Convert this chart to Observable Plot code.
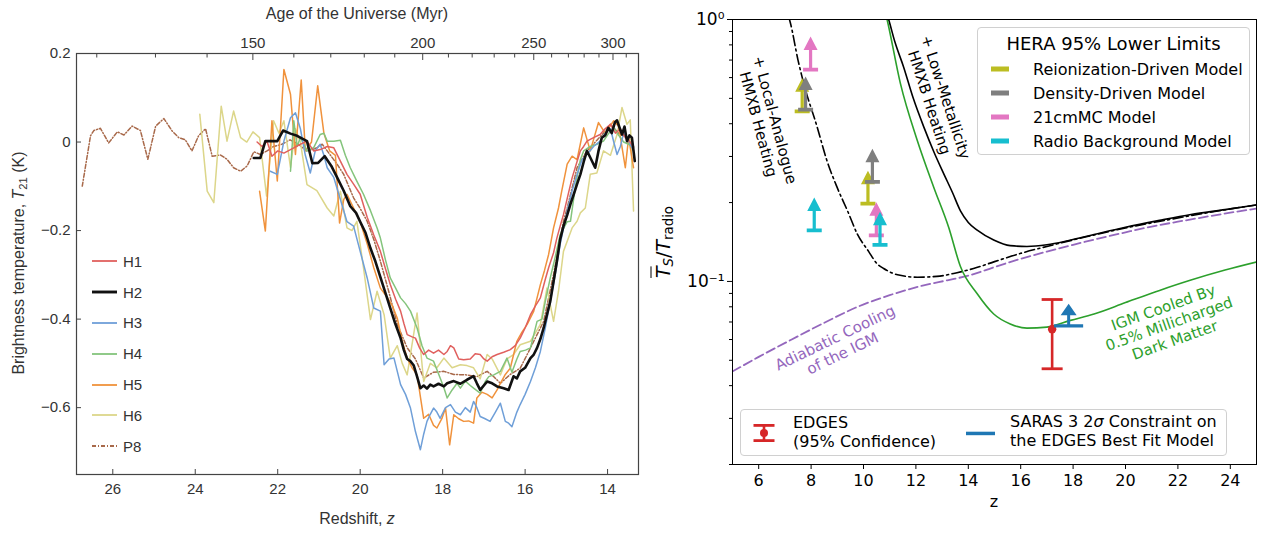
<!DOCTYPE html>
<html><head><meta charset="utf-8">
<script src="https://cdn.jsdelivr.net/npm/d3@7"></script>
<script src="https://cdn.jsdelivr.net/npm/@observablehq/plot@0.6"></script>
<style>
body{margin:0;background:#fff;}
#wrap{position:relative;width:1264px;height:533px;overflow:hidden;background:#fff;}
#left{position:absolute;left:0;top:0;}
#right{position:absolute;left:650px;top:0;}
.lbl{position:absolute;white-space:nowrap;line-height:1;}
.lbl sub{font-size:70%;vertical-align:-0.3em;line-height:0;}
.leg{position:absolute;}
</style></head><body><div id="wrap"><div id="left"></div><div id="right"></div></div>
<script>
// ---------------- LEFT PANEL DATA (redshift z, brightness temperature K) ----------------
const H1 = [[22.50,0.0],[22.38,-0.01],[22.26,0.002],[22.14,-0.032],[22.0,-0.02],[21.85,-0.025],[21.61,-0.013],[21.45,-0.005],[21.29,0.002],[21.13,-0.02],[20.97,-0.017],[20.80,-0.01],[20.64,-0.013],[20.48,-0.043],[20.32,-0.073],[20.16,-0.095],[20.0,-0.118],[19.83,-0.17],[19.67,-0.21],[19.51,-0.247],[19.39,-0.285],[19.27,-0.322],[19.14,-0.355],[19.02,-0.382],[18.94,-0.41],[18.86,-0.435],[18.74,-0.44],[18.66,-0.443],[18.56,-0.465],[18.46,-0.48],[18.34,-0.47],[18.22,-0.477],[18.10,-0.47],[17.97,-0.48],[17.89,-0.473],[17.81,-0.46],[17.73,-0.465],[17.61,-0.49],[17.49,-0.492],[17.33,-0.49],[17.21,-0.478],[17.09,-0.48],[17.00,-0.49],[16.92,-0.495],[16.80,-0.485],[16.68,-0.48],[16.52,-0.475],[16.36,-0.469],[16.24,-0.46],[16.12,-0.443],[16.0,-0.42],[15.87,-0.39],[15.75,-0.37],[15.63,-0.352],[15.51,-0.31],[15.43,-0.284],[15.31,-0.25],[15.23,-0.217],[15.15,-0.19],[15.07,-0.164],[14.96,-0.12],[14.86,-0.081],[14.76,-0.05],[14.66,-0.02],[14.58,-0.01],[14.50,0.002],[14.34,0.01],[14.18,0.017],[14.06,0.03],[13.93,0.04],[13.81,0.02],[13.69,0.03],[13.57,0.01],[13.45,0.0],[13.37,-0.013]];
const H2 = [[22.58,-0.036],[22.42,-0.036],[22.30,0.002],[22.01,0.002],[21.87,0.026],[21.69,0.019],[21.53,0.014],[21.45,0.01],[21.29,0.002],[21.16,-0.048],[21.02,-0.047],[20.86,-0.032],[20.70,-0.054],[20.56,-0.08],[20.40,-0.11],[20.24,-0.145],[20.10,-0.16],[20.0,-0.18],[19.87,-0.205],[19.75,-0.24],[19.63,-0.27],[19.51,-0.305],[19.39,-0.34],[19.27,-0.375],[19.15,-0.41],[19.02,-0.443],[18.94,-0.47],[18.86,-0.49],[18.78,-0.495],[18.70,-0.505],[18.62,-0.53],[18.54,-0.556],[18.46,-0.55],[18.38,-0.557],[18.30,-0.548],[18.22,-0.552],[18.10,-0.546],[17.97,-0.552],[17.89,-0.545],[17.73,-0.54],[17.57,-0.546],[17.41,-0.537],[17.25,-0.529],[17.17,-0.545],[17.09,-0.56],[16.92,-0.541],[16.80,-0.545],[16.68,-0.552],[16.52,-0.556],[16.40,-0.56],[16.28,-0.529],[16.20,-0.534],[16.12,-0.518],[16.0,-0.51],[15.87,-0.488],[15.79,-0.48],[15.71,-0.465],[15.63,-0.445],[15.55,-0.42],[15.47,-0.39],[15.39,-0.36],[15.31,-0.315],[15.23,-0.27],[15.15,-0.22],[15.07,-0.19],[14.98,-0.165],[14.90,-0.14],[14.82,-0.118],[14.74,-0.095],[14.66,-0.073],[14.58,-0.045],[14.50,-0.02],[14.42,-0.035],[14.30,-0.058],[14.22,-0.02],[14.14,0.01],[14.06,0.015],[13.98,0.032],[13.90,0.02],[13.82,0.045],[13.77,0.049],[13.70,0.03],[13.65,0.017],[13.59,0.035],[13.53,0.002],[13.47,0.015],[13.41,0.01],[13.34,-0.043]];
const H3 = [[22.18,-0.066],[22.01,-0.073],[21.85,0.002],[21.69,0.055],[21.57,0.066],[21.45,0.03],[21.33,-0.03],[21.21,-0.07],[21.09,-0.02],[20.97,-0.005],[20.88,-0.03],[20.80,-0.058],[20.64,-0.08],[20.48,-0.13],[20.32,-0.18],[20.16,-0.19],[20.0,-0.247],[19.83,-0.307],[19.67,-0.375],[19.51,-0.382],[19.42,-0.503],[19.30,-0.49],[19.18,-0.488],[19.02,-0.548],[18.90,-0.57],[18.78,-0.601],[18.66,-0.654],[18.54,-0.695],[18.46,-0.66],[18.38,-0.631],[18.30,-0.615],[18.22,-0.601],[18.14,-0.61],[18.06,-0.624],[17.93,-0.6],[17.81,-0.593],[17.69,-0.61],[17.57,-0.616],[17.45,-0.6],[17.33,-0.61],[17.25,-0.586],[17.17,-0.6],[17.09,-0.62],[16.97,-0.625],[16.85,-0.631],[16.72,-0.61],[16.60,-0.59],[16.48,-0.631],[16.40,-0.635],[16.32,-0.643],[16.20,-0.61],[16.12,-0.593],[16.0,-0.57],[15.87,-0.541],[15.75,-0.51],[15.63,-0.473],[15.51,-0.42],[15.39,-0.36],[15.27,-0.3],[15.15,-0.231],[15.06,-0.19],[14.98,-0.156],[14.86,-0.11],[14.74,-0.073],[14.62,-0.04],[14.50,-0.028],[14.34,-0.01],[14.18,0.002],[14.06,0.02],[13.93,0.03],[13.85,0.0],[13.77,-0.028],[13.69,-0.01],[13.61,0.02],[13.53,0.01],[13.45,-0.005],[13.37,-0.02]];
const H4 = [[21.69,-0.066],[21.61,0.048],[21.53,-0.01],[21.45,0.01],[21.29,-0.02],[21.13,-0.013],[20.97,0.017],[20.88,0.02],[20.80,0.002],[20.64,0.002],[20.48,0.004],[20.36,-0.03],[20.24,-0.058],[20.10,-0.085],[19.92,-0.118],[19.75,-0.155],[19.59,-0.194],[19.51,-0.217],[19.39,-0.265],[19.27,-0.307],[19.14,-0.33],[19.02,-0.352],[18.90,-0.365],[18.78,-0.382],[18.62,-0.42],[18.50,-0.46],[18.38,-0.488],[18.22,-0.495],[18.06,-0.533],[17.97,-0.555],[17.89,-0.578],[17.77,-0.56],[17.65,-0.545],[17.57,-0.556],[17.45,-0.54],[17.33,-0.55],[17.25,-0.556],[17.09,-0.567],[16.96,-0.54],[16.88,-0.53],[16.76,-0.526],[16.60,-0.518],[16.44,-0.488],[16.32,-0.52],[16.20,-0.49],[16.12,-0.473],[15.99,-0.47],[15.87,-0.465],[15.71,-0.405],[15.59,-0.4],[15.51,-0.36],[15.39,-0.307],[15.27,-0.26],[15.15,-0.209],[14.98,-0.18],[14.90,-0.179],[14.78,-0.1],[14.66,-0.04],[14.58,-0.02],[14.42,-0.01],[14.26,-0.005],[14.10,0.002],[13.97,0.02],[13.85,0.032],[13.73,0.015],[13.61,0.0],[13.49,-0.005],[13.37,-0.013]];
const H5 = [[22.44,-0.111],[22.30,-0.201],[22.14,0.048],[22.01,-0.088],[21.85,0.164],[21.69,0.108],[21.57,-0.028],[21.43,0.14],[21.33,-0.02],[21.18,0.0],[21.03,0.127],[20.88,0.02],[20.74,-0.02],[20.60,-0.03],[20.50,-0.183],[20.40,-0.13],[20.32,-0.118],[20.16,-0.149],[20.0,-0.18],[19.83,-0.23],[19.67,-0.284],[19.51,-0.33],[19.35,-0.35],[19.22,-0.37],[19.10,-0.398],[18.98,-0.45],[18.86,-0.488],[18.74,-0.51],[18.62,-0.526],[18.46,-0.624],[18.34,-0.615],[18.22,-0.64],[18.14,-0.646],[18.02,-0.625],[17.93,-0.601],[17.83,-0.684],[17.73,-0.616],[17.61,-0.625],[17.49,-0.631],[17.37,-0.63],[17.25,-0.635],[17.17,-0.578],[17.05,-0.565],[16.92,-0.57],[16.80,-0.578],[16.68,-0.56],[16.60,-0.545],[16.48,-0.525],[16.36,-0.511],[16.20,-0.45],[16.08,-0.43],[15.95,-0.412],[15.79,-0.382],[15.63,-0.322],[15.53,-0.29],[15.43,-0.254],[15.31,-0.194],[15.19,-0.149],[15.11,-0.11],[14.98,-0.05],[14.86,-0.032],[14.74,-0.04],[14.58,0.032],[14.42,-0.02],[14.22,0.044],[14.06,0.02],[13.85,0.048],[13.73,0.035],[13.57,-0.058],[13.49,0.01],[13.37,-0.058]];
const H6 = [[23.89,0.063],[23.71,-0.111],[23.55,-0.137],[23.37,0.081],[23.23,0.002],[23.07,0.07],[22.90,0.01],[22.75,0.0],[22.60,0.023],[22.44,0.01],[22.27,-0.122],[22.10,0.048],[21.97,0.02],[21.85,0.048],[21.69,-0.058],[21.57,0.03],[21.45,0.0],[21.29,-0.096],[21.05,-0.11],[20.80,-0.149],[20.64,-0.167],[20.48,-0.111],[20.32,-0.194],[20.20,-0.2],[20.08,-0.179],[19.92,-0.284],[19.75,-0.401],[19.59,-0.337],[19.42,-0.39],[19.27,-0.488],[19.10,-0.46],[18.98,-0.5],[18.86,-0.526],[18.62,-0.386],[18.46,-0.541],[18.30,-0.5],[18.14,-0.51],[17.97,-0.488],[17.77,-0.51],[17.57,-0.503],[17.41,-0.505],[17.25,-0.51],[17.09,-0.535],[16.92,-0.48],[16.80,-0.49],[16.60,-0.526],[16.44,-0.49],[16.28,-0.48],[16.12,-0.458],[15.87,-0.45],[15.63,-0.412],[15.47,-0.33],[15.31,-0.405],[15.19,-0.337],[15.07,-0.247],[14.86,-0.194],[14.74,-0.179],[14.66,-0.16],[14.54,-0.149],[14.42,-0.073],[14.26,-0.07],[14.10,-0.02],[13.93,-0.03],[13.77,0.017],[13.65,0.078],[13.53,0.04],[13.45,0.05],[13.37,-0.156]];
const P8 = [[26.74,-0.0995],[26.54,0.014],[26.46,0.026],[26.30,0.031],[26.10,-0.002],[25.89,0.023],[25.73,0.016],[25.53,0.036],[25.33,0.026],[25.15,-0.039],[24.96,0.036],[24.76,0.053],[24.56,0.025],[24.40,0.01],[24.24,0.005],[24.08,-0.02],[23.92,0.014],[23.75,0.030],[23.59,-0.032],[23.39,-0.029],[23.23,-0.039],[23.07,-0.058],[22.90,-0.066],[22.74,-0.054],[22.58,-0.022],[22.42,-0.028],[22.26,-0.02],[22.10,-0.01],[21.90,-0.005],[21.70,0.005],[21.50,-0.005],[21.30,-0.02],[21.10,-0.015],[20.92,-0.005],[20.72,-0.03],[20.56,-0.05],[20.40,-0.073],[20.16,-0.126],[20.0,-0.15],[19.83,-0.179],[19.67,-0.22],[19.51,-0.269],[19.30,-0.34],[19.10,-0.412],[18.86,-0.465],[18.66,-0.49],[18.46,-0.533],[18.22,-0.52],[17.97,-0.518],[17.73,-0.525],[17.41,-0.526],[17.17,-0.53],[16.92,-0.518],[16.76,-0.53],[16.60,-0.545],[16.36,-0.525],[16.12,-0.511],[15.95,-0.48],[15.79,-0.45],[15.55,-0.405],[15.31,-0.299],[15.07,-0.179],[14.98,-0.149],[14.74,-0.058],[14.50,-0.02],[14.30,0.0],[14.10,0.02],[13.93,0.04],[13.73,0.02],[13.53,0.01],[13.37,-0.01]];

const leftXTicks = [26, 24, 22, 20, 18, 16, 14];
const leftYTicks = [0.2, 0, -0.2, -0.4, -0.6];
const ageMajor = [150, 200, 250, 300];
const ageMinor = [120, 130, 140, 160, 170, 180, 190, 210, 220, 230, 240, 260, 270, 280, 290, 310];
const leftNames = ["H1", "H2", "H3", "H4", "H5", "H6", "P8"];
const leftData = [H1, H2, H3, H4, H5, H6, P8];

// styles (kept apart from data)
const leftStyle = {
  H1: {color: "#e0605e", width: 1.5, dash: null},
  H2: {color: "#111111", width: 2.6, dash: null},
  H3: {color: "#6f9fd8", width: 1.5, dash: null},
  H4: {color: "#84c47c", width: 1.5, dash: null},
  H5: {color: "#f0923c", width: 1.5, dash: null},
  H6: {color: "#dcd68a", width: 1.5, dash: null},
  P8: {color: "#a8694a", width: 1.5, dash: "4,2,1,2"}
};
const drawOrder = ["P8", "H6", "H5", "H4", "H3", "H1", "H2"];

// age <-> redshift (matter-dominated approximation)
const ageC = 17200;
const zOfAge = t => Math.pow(ageC / t, 2 / 3) - 1;
const ageOfZ = z => ageC * Math.pow(1 + z, -1.5);

const fmtLeft = d => d === 0 ? "0" : d.toFixed(1).replace("-", "\u2212");

const leftPlot = Plot.plot({
  width: 650, height: 533,
  marginLeft: 76, marginRight: 12, marginTop: 53, marginBottom: 59,
  style: {fontFamily: "'Liberation Sans', Arial, sans-serif", fontSize: "15px", color: "#333", background: "transparent"},
  x: {domain: [26.88, 13.25]},
  y: {domain: [-0.751, 0.2]},
  marks: [
    ...drawOrder.map(n => Plot.line(leftData[leftNames.indexOf(n)], {
      x: d => d[0], y: d => d[1], stroke: leftStyle[n].color, strokeWidth: leftStyle[n].width,
      strokeDasharray: leftStyle[n].dash, strokeLinejoin: "round"
    })),
    Plot.frame({stroke: "#444", strokeWidth: 1.2}),
    Plot.axisX(leftXTicks, {anchor: "bottom", tickSize: 0, tickPadding: 9, fontSize: 15, label: null}),
    Plot.axisX(leftXTicks, {anchor: "bottom", tickSize: -5, tickFormat: () => "", label: null, stroke: "#444"}),
    Plot.axisX(ageMajor.map(zOfAge), {anchor: "top", tickSize: 0, tickPadding: 6, fontSize: 15, label: null,
      tickFormat: z => String(Math.round(ageOfZ(z)))}),
    Plot.axisX(ageMajor.map(zOfAge), {anchor: "top", tickSize: -6, tickFormat: () => "", label: null, stroke: "#444"}),
    Plot.axisX(ageMinor.map(zOfAge), {anchor: "top", tickSize: -3.5, tickFormat: () => "", label: null, stroke: "#444"}),
    Plot.axisY(leftYTicks, {anchor: "left", tickSize: 0, tickPadding: 6, fontSize: 15, label: null, tickFormat: fmtLeft}),
    Plot.axisY(leftYTicks, {anchor: "left", tickSize: -5, tickFormat: () => "", label: null, stroke: "#444"})
  ]
});
document.getElementById("left").appendChild(leftPlot);

// ---------------- RIGHT PANEL DATA (z, Ts/Tradio) ----------------
const lowMetal = [[10.80,1.12],[10.96,1.0],[11.2,0.82],[11.53,0.659],[11.9,0.50],[12.3,0.389],[12.7,0.31],[13.06,0.258],[13.4,0.218],[13.7,0.186],[14.0,0.168],[14.34,0.157],[14.97,0.144],[15.6,0.137],[16.24,0.136],[17.0,0.138],[17.8,0.143],[18.8,0.151],[20.0,0.161],[21.3,0.171],[22.5,0.18],[23.8,0.188],[25.0,0.196]];
const localAnalogue = [[7.15,1.02],[7.21,0.97],[7.5,0.70],[7.72,0.569],[8.23,0.389],[8.6,0.29],[8.99,0.229],[9.4,0.185],[9.76,0.152],[10.2,0.13],[10.52,0.1167],[10.77,0.112],[11.3,0.106],[12.05,0.1038],[12.8,0.1045],[13.57,0.108],[14.2,0.112],[15.0,0.119],[16.0,0.128],[17.0,0.136],[17.5,0.140],[18.5,0.148],[20.0,0.160],[21.5,0.171],[23.0,0.182],[25.0,0.196]];
const adiabatic = [[5,0.0453],[6,0.0515],[7.2,0.0596],[8.5,0.0695],[9.75,0.0798],[11,0.0886],[12.3,0.0966],[13.2,0.101],[14.03,0.1054],[15,0.1135],[16,0.122],[17,0.130],[18,0.138],[19,0.146],[20,0.154],[21,0.162],[22,0.169],[23,0.176],[24,0.183],[25,0.1897]];
const millicharged = [[10.8,1.1],[10.9,1.0],[11.41,0.569],[12.05,0.346],[12.68,0.229],[13.25,0.161],[13.7,0.114],[14.34,0.0897],[14.97,0.0751],[15.6,0.0688],[16.24,0.0663],[17.0,0.0669],[17.9,0.071],[18.8,0.0751],[20.0,0.083],[21.3,0.0924],[22.5,0.1012],[23.8,0.1105],[25.0,0.1186]];

const heraModels = ["Reionization-Driven Model", "Density-Driven Model", "21cmMC Model", "Radio Background Model"];
const heraZ     = [7.66, 7.79, 7.98, 8.12, 10.17, 10.34, 10.49, 10.63];
const heraLimit = [0.446, 0.453, 0.644, 0.1566, 0.198, 0.240, 0.150, 0.138];
const heraModel = [0, 1, 2, 3, 0, 1, 2, 3];
const heraColors = ["#bcbd22", "#7f7f7f", "#e377c2", "#17becf"];

const edgesZ = [17.2], edgesV = [0.0657], edgesLo = [0.0464], edgesHi = [0.0853];
const sarasZ = [17.83], sarasV = [0.0677];

const rightXTicks = [6, 8, 10, 12, 14, 16, 18, 20, 22, 24];
const rightYMajor = [1, 0.1];
const rightYMinor = [0.02, 0.03, 0.04, 0.05, 0.06, 0.07, 0.08, 0.09, 0.2, 0.3, 0.4, 0.5, 0.6, 0.7, 0.8, 0.9];

const annText = ["+ Local-Analogue\nHMXB Heating", "+ Low-Metallicity\nHMXB Heating", "Adiabatic Cooling\nof the IGM", "IGM Cooled By\n0.5% Millicharged\nDark Matter"];
const annZ = [6.32, 12.84, 9.05, 21.66];
const annV = [0.406, 0.494, 0.0571, 0.0691];
const annRotate = [75, 72, -25.7, -19.5];
const annColor = ["#000000", "#000000", "#9467bd", "#2ca02c"];

const heraRows = heraZ.map((z, i) => ({z, v: heraLimit[i], color: heraColors[heraModel[i]]}));
const annRows = annText.map((t, i) => ({t, z: annZ[i], v: annV[i], r: annRotate[i], c: annColor[i]}));
const edgesRows = edgesZ.map((z, i) => ({z, v: edgesV[i], lo: edgesLo[i], hi: edgesHi[i]}));
const sarasRows = sarasZ.map((z, i) => ({z, v: sarasV[i]}));

// glyphs (pixel sizes)
function rect(ctx, x0, y0, x1, y1) { ctx.moveTo(x0, y0); ctx.lineTo(x1, y0); ctx.lineTo(x1, y1); ctx.lineTo(x0, y1); ctx.closePath(); }
const limitArrow = (capW, capH, shaftW, headBase, tip, headW) => ({
  draw(ctx) {
    rect(ctx, -capW, -capH, capW, capH);
    rect(ctx, -shaftW, -headBase - 0.5, shaftW, 0);
    ctx.moveTo(0, -tip); ctx.lineTo(headW, -headBase); ctx.lineTo(-headW, -headBase); ctx.closePath();
  }
});
const heraArrow = limitArrow(7.5, 1.9, 1.6, 19.5, 33, 7);
const sarasArrow = limitArrow(14.5, 1.6, 1.5, 10.5, 22, 8);
const capSymbol = {draw(ctx) { rect(ctx, -10.5, -1.4, 10.5, 1.4); }};

const rightPlot = Plot.plot({
  width: 614, height: 533,
  marginLeft: 82, marginRight: 8, marginTop: 19, marginBottom: 69,
  style: {fontFamily: "'DejaVu Sans', sans-serif", fontSize: "16px", color: "#000", background: "transparent"},
  x: {domain: [5, 25]},
  y: {type: "log", domain: [0.02, 1]},
  color: {type: "identity"},
  marks: [
    Plot.line(adiabatic, {x: d => d[0], y: d => d[1], stroke: "#9467bd", strokeWidth: 1.8, strokeDasharray: "9,4", curve: "monotone-x", clip: true}),
    Plot.line(localAnalogue, {x: d => d[0], y: d => d[1], stroke: "#000", strokeWidth: 1.6, strokeDasharray: "10,3.5,2,3.5", curve: "monotone-x", clip: true}),
    Plot.line(lowMetal, {x: d => d[0], y: d => d[1], stroke: "#000", strokeWidth: 1.6, curve: "monotone-x", clip: true}),
    Plot.line(millicharged, {x: d => d[0], y: d => d[1], stroke: "#2ca02c", strokeWidth: 1.6, curve: "monotone-x", clip: true}),
    Plot.dot(heraRows, {x: "z", y: "v", symbol: heraArrow, fill: "color", stroke: null, r: 5}),
    Plot.ruleX(edgesRows, {x: "z", y1: "lo", y2: "hi", stroke: "#d62728", strokeWidth: 2.6}),
    Plot.dot(edgesRows, {x: "z", y: "lo", symbol: capSymbol, fill: "#d62728", stroke: null, r: 5}),
    Plot.dot(edgesRows, {x: "z", y: "hi", symbol: capSymbol, fill: "#d62728", stroke: null, r: 5}),
    Plot.dot(edgesRows, {x: "z", y: "v", r: 4.2, fill: "#d62728", stroke: null}),
    Plot.dot(sarasRows, {x: "z", y: "v", symbol: sarasArrow, fill: "#1f77b4", stroke: null, r: 5}),
    Plot.text(annRows, {x: "z", y: "v", text: "t", rotate: "r", fill: "c", fontSize: 15, lineHeight: 1.15, textAnchor: "middle", lineAnchor: "middle"}),
    Plot.frame({stroke: "#000", strokeWidth: 1}),
    Plot.axisX(rightXTicks, {anchor: "bottom", tickSize: 5, tickPadding: 5, fontSize: 16, label: null}),
    Plot.axisY(rightYMajor, {anchor: "left", tickSize: 5, tickPadding: 3, fontSize: 17, label: null,
      tickFormat: d => d === 1 ? "10\u2070" : "10\u207B\u00B9"}),
    Plot.axisY(rightYMinor, {anchor: "left", tickSize: 3, tickFormat: () => "", label: null})
  ]
});
document.getElementById("right").appendChild(rightPlot);

// ---------------- LABELS & LEGENDS (HTML overlays) ----------------
const wrap = document.getElementById("wrap");
function label(html, x, y, css, rot) {
  const d = document.createElement("div");
  d.className = "lbl";
  d.innerHTML = html;
  d.style.left = x + "px"; d.style.top = y + "px";
  d.style.transform = "translate(-50%,-50%)" + (rot ? ` rotate(${rot}deg)` : "");
  Object.assign(d.style, css);
  wrap.appendChild(d);
}
const leftFont = {fontFamily: "'Liberation Sans', Arial, sans-serif", fontSize: "16px", color: "#333"};
const rightFont = {fontFamily: "'DejaVu Sans', sans-serif", fontSize: "16px", color: "#000"};
label("Age of the Universe (Myr)", 357, 14, leftFont);
label("Redshift, <i>z</i>", 357, 519, leftFont);
label("Brightness temperature, <i>T</i><sub>21</sub> (K)", 19, 263, leftFont, -90);
label("z", 994, 502, rightFont);
label("<span style='text-decoration:overline'><i>T</i></span><sub><i>S</i></sub>/<i>T</i><sub>radio</sub>", 663, 242,
  {fontFamily: "'DejaVu Sans', sans-serif", fontSize: "19px", color: "#000"}, -90);

// left legend
const legL = document.createElement("div");
legL.className = "leg";
legL.style.cssText = "left:91px;top:246px;font-family:'Liberation Sans',Arial,sans-serif;font-size:15px;color:#333;";
legL.innerHTML = leftNames.map(n => {
  const s = leftStyle[n];
  return `<div style="height:30.8px;display:flex;align-items:center;">
    <svg width="26" height="8"><line x1="1" y1="4" x2="26" y2="4" stroke="${s.color}" stroke-width="${s.width + 0.3}" ${s.dash ? `stroke-dasharray="${s.dash}"` : ""}/></svg>
    <span style="margin-left:6px">${n}</span></div>`;
}).join("");
wrap.appendChild(legL);

// HERA legend
const legH = document.createElement("div");
legH.className = "leg";
legH.style.cssText = "left:977px;top:27px;width:273px;height:128px;box-sizing:border-box;border:1px solid #d0d0d0;border-radius:4px;background:rgba(255,255,255,0.85);font-family:'DejaVu Sans',sans-serif;color:#000;";
legH.innerHTML = `<div style="position:absolute;left:0;right:0;top:4px;text-align:center;font-size:18px;line-height:24px;">HERA 95% Lower Limits</div>` +
  heraModels.map((m, i) => `<div style="position:absolute;left:13px;top:${29 + i * 24}px;height:24px;display:flex;align-items:center;font-size:16px;">
    <svg width="18" height="6"><rect x="0" y="0.5" width="18" height="5" fill="${heraColors[i]}"/></svg>
    <span style="margin-left:24px">${m}</span></div>`).join("");
wrap.appendChild(legH);

// EDGES / SARAS legend
const legB = document.createElement("div");
legB.className = "leg";
legB.style.cssText = "left:740px;top:409px;width:487px;height:47px;box-sizing:border-box;border:1px solid #d0d0d0;border-radius:4px;background:rgba(255,255,255,0.85);font-family:'DejaVu Sans',sans-serif;font-size:16px;color:#000;line-height:18.5px;";
legB.innerHTML = `
  <svg style="position:absolute;left:11px;top:13px" width="24" height="20">
    <rect x="1.5" y="1" width="21" height="2.8" fill="#d62728"/><rect x="1.5" y="16.2" width="21" height="2.8" fill="#d62728"/>
    <rect x="10.7" y="2" width="2.6" height="16" fill="#d62728"/><circle cx="12" cy="10" r="4" fill="#d62728"/></svg>
  <div style="position:absolute;left:52px;top:4px;">EDGES<br>(95% Confidence)</div>
  <svg style="position:absolute;left:225px;top:21px" width="29" height="5"><rect x="0" y="0.7" width="29" height="3.5" fill="#1f77b4"/></svg>
  <div style="position:absolute;left:269px;top:3px;">SARAS 3 2<i>σ</i> Constraint on<br>the EDGES Best Fit Model</div>`;
wrap.appendChild(legB);
</script></body></html>
